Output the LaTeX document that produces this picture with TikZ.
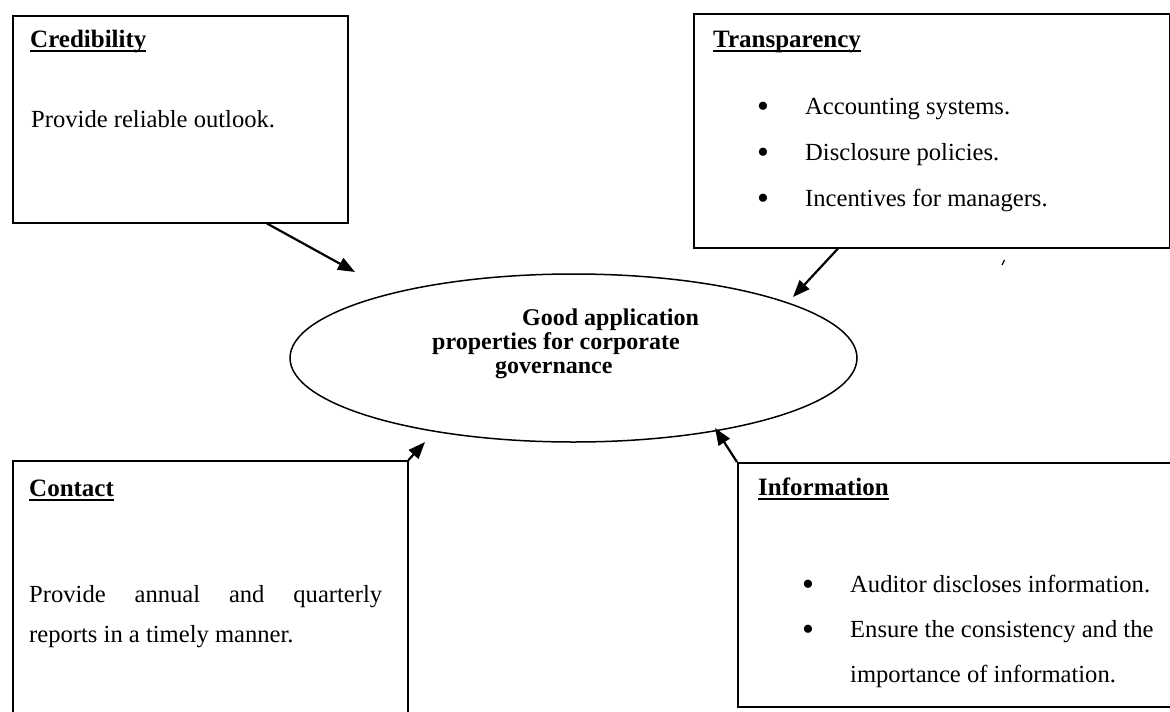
\documentclass[tikz,border=0pt]{standalone}
\usepackage{fontspec}
\setmainfont{Liberation Serif}
\usetikzlibrary{arrows.meta,shapes.geometric,calc}
\newsavebox\ulbox
\newcommand\myul[1]{\sbox\ulbox{#1}\rlap{\rule[-5pt]{\wd\ulbox}{1.6pt}}\usebox\ulbox}
\newcommand\bul{\raisebox{-3pt}{\fontsize{34}{34}\selectfont\textbullet}}
\begin{document}
\begin{tikzpicture}[x=1pt,y=-1pt,
  box/.style={draw,line width=1.5pt,rectangle,anchor=north west,inner sep=0pt},
  txt/.style={anchor=base west,inner sep=0pt,font=\fontsize{24.6}{28}\selectfont},
  ttl/.style={anchor=base west,inner sep=0pt,font=\fontsize{25}{28}\selectfont\bfseries},
  ctr/.style={anchor=base west,inner sep=0pt,font=\fontsize{24}{28}\selectfont\bfseries},
  arr/.style={line width=2.2pt,-{Triangle[length=17pt,width=13pt]}},
  core/.style={draw,ellipse,line width=1.5pt,inner sep=0pt}]
\useasboundingbox (0,0) rectangle (1170,712);
% boxes
\node[box,minimum width=335pt,minimum height=207pt] (cred) at (12,15) {};
\node[box,minimum width=476pt,minimum height=234pt] (trans) at (693,13) {};
\node[box,minimum width=395pt,minimum height=290pt] (cont) at (12,460) {};
\node[box,minimum width=470pt,minimum height=244pt] (info) at (737,462) {};
% ellipse
\node[core,minimum width=567pt,minimum height=168pt] (gov) at (573.5,358) {};
\node[ctr] (g1) at (522,325) {Good application};
\node[ctr] (g2) at (432,349) {properties for corporate};
\node[ctr] (g3) at (495,373) {governance};
% credibility
\node[ttl] (credt) at (30,47) {\myul{Credibility}};
\node[txt] (credb) at (31,127) {Provide reliable outlook.};
% transparency
\node[ttl] (transt) at (713,47) {\myul{Transparency}};
\node[txt] (tb1) at (757,114) {\bul};
\node[txt] (tt1) at (805,114) {Accounting systems.};
\node[txt] (tb2) at (757,160) {\bul};
\node[txt] (tt2) at (805,160) {Disclosure policies.};
\node[txt] (tb3) at (757,206) {\bul};
\node[txt] (tt3) at (805,206) {Incentives for managers.};
% contact
\node[ttl] (contt) at (29,496) {\myul{Contact}};
\node[txt] (contb1) at (29,602) {\hbox to 353pt{Provide\hfil annual\hfil and\hfil quarterly}};
\node[txt] (contb2) at (29,642) {reports in a timely manner.};
% information
\node[ttl] (infot) at (758,495) {\myul{Information}};
\node[txt] (ib1) at (802,592) {\bul};
\node[txt] (it1) at (850,592) {Auditor discloses information.};
\node[txt] (ib2) at (802,637) {\bul};
\node[txt] (it2) at (850,637) {Ensure the consistency and the};
\node[txt] (it3) at (850,682) {importance of information.};
% arrows
\coordinate (credtip) at (355,272);
\coordinate (transtip) at (793,297);
\coordinate (conttip) at (425,442);
\coordinate (infotip) at (715,428);
\draw[arr] ([xshift=255pt]cred.south west) -- (credtip);
\draw[arr] ([xshift=145pt]trans.south west) -- (transtip);
\draw[arr] (cont.north east) -- (conttip);
\draw[arr] (info.north west) -- (infotip);
% stray mark
\coordinate (m1) at (1002,265);
\coordinate (m2) at (1004.5,260);
\draw[line width=1.2pt] (m1) -- (m2);
\end{tikzpicture}
\end{document}
